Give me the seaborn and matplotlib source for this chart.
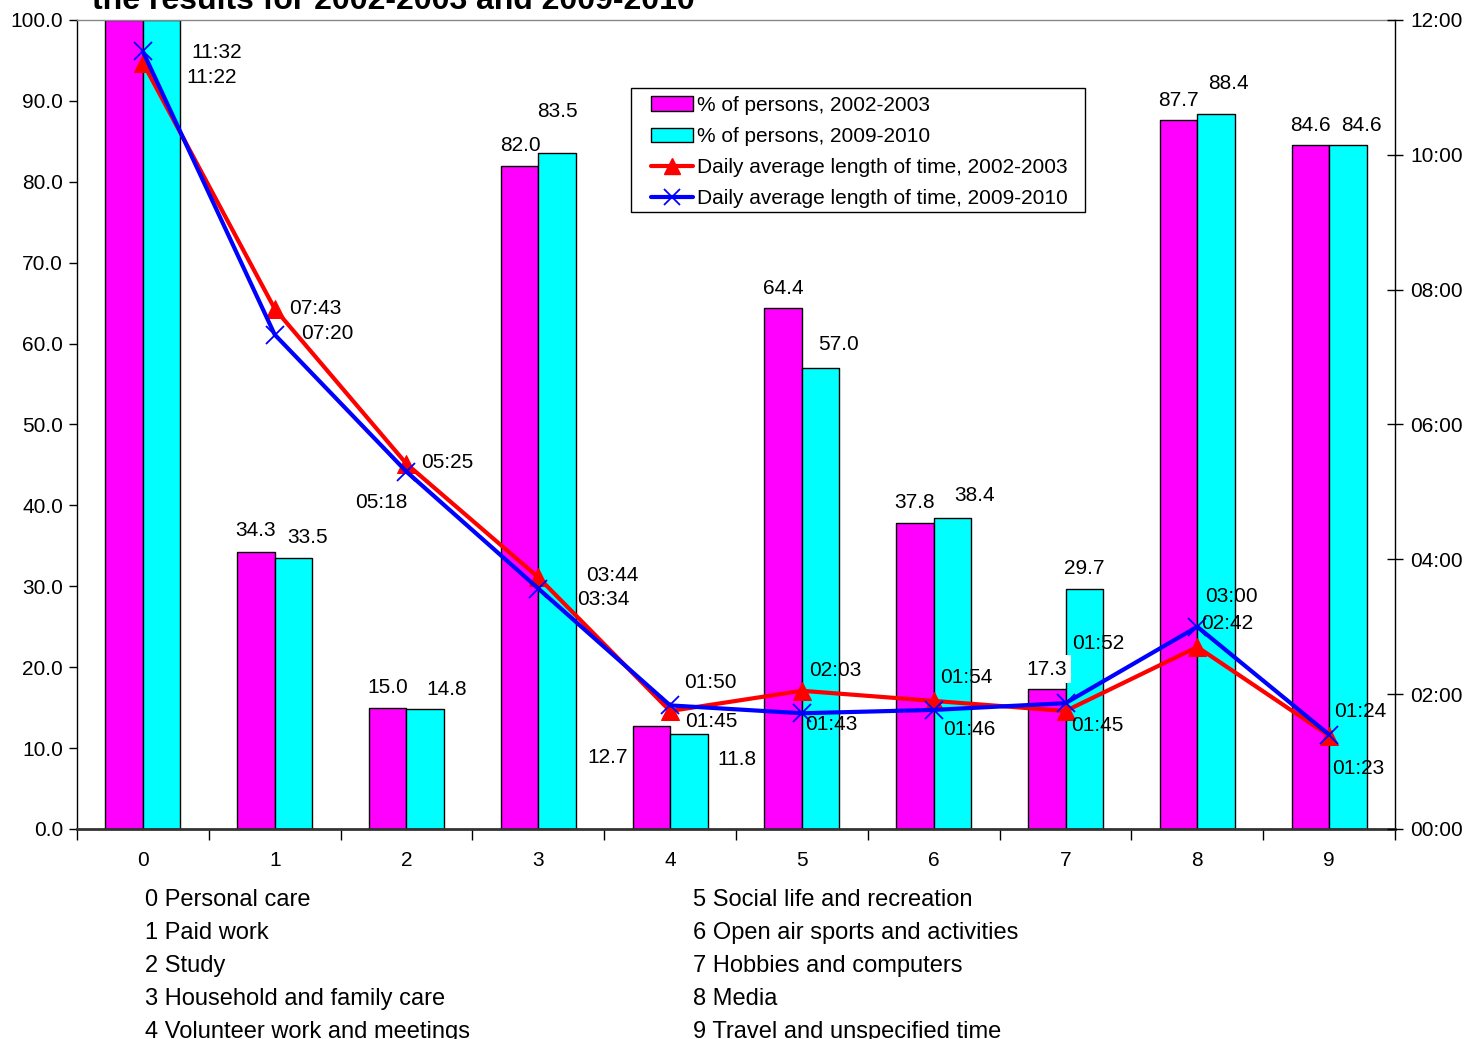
import matplotlib
matplotlib.use('Agg')

import matplotlib.pyplot as plt
import matplotlib.patches as mpatches
import matplotlib.lines as mlines
import seaborn as sns
import pandas as pd
from matplotlib.ticker import FixedLocator, FuncFormatter

# data
categories = ['0', '1', '2', '3', '4', '5', '6', '7', '8', '9']
activity_names = ['Personal care', 'Paid work', 'Study', 'Household and family care',
                  'Volunteer work and meetings', 'Social life and recreation',
                  'Open air sports and activities', 'Hobbies and computers', 'Media',
                  'Travel and unspecified time']
persons_2002 = [100.0, 34.3, 15.0, 82.0, 12.7, 64.4, 37.8, 17.3, 87.7, 84.6]
persons_2009 = [100.0, 33.5, 14.8, 83.5, 11.8, 57.0, 38.4, 29.7, 88.4, 84.6]
time_2002 = ['11:22', '07:43', '05:25', '03:44', '01:45', '02:03', '01:54', '01:45', '02:42', '01:23']
time_2009 = ['11:32', '07:20', '05:18', '03:34', '01:50', '01:43', '01:46', '01:52', '03:00', '01:24']
series_names = ['% of persons, 2002-2003', '% of persons, 2009-2010']
line_names = ['Daily average length of time, 2002-2003', 'Daily average length of time, 2009-2010']


def to_minutes(s):
    h, m = s.split(':')
    return int(h) * 60 + int(m)


mins_2002 = [to_minutes(t) for t in time_2002]
mins_2009 = [to_minutes(t) for t in time_2009]

sns.set_style('white')
plt.rcParams['font.family'] = ['Liberation Sans', 'DejaVu Sans']
plt.rcParams['text.color'] = 'black'
plt.rcParams['xtick.color'] = 'black'
plt.rcParams['ytick.color'] = 'black'
plt.rcParams['axes.labelcolor'] = 'black'

W, H = 1466, 1039
fig = plt.figure(figsize=(W / 100, H / 100), dpi=100)
ax = fig.add_axes([77 / W, 210 / H, 1318 / W, 809 / H])

bars = pd.DataFrame({
    'cat': categories * 2,
    'value': persons_2002 + persons_2009,
    'series': [series_names[0]] * 10 + [series_names[1]] * 10,
})
sns.barplot(data=bars, x='cat', y='value', hue='series', order=categories,
            palette=['#FF00FF', '#00FFFF'], width=0.57, gap=0,
            edgecolor='black', linewidth=1, saturation=1, legend=False, ax=ax)

ax.set_xlim(-0.5, 9.5)
ax.set_ylim(0, 100)
ax.set_xlabel('')
ax.set_ylabel('')
ax.set_yticks([i * 10 for i in range(11)])
ax.yaxis.set_major_formatter(FuncFormatter(lambda v, p: f'{v:.1f}'))
ax.tick_params(axis='y', direction='out', length=6, width=1, labelsize=15, left=True, pad=4)
ax.tick_params(axis='x', which='major', length=0, labelsize=15, pad=16)
ax.xaxis.set_minor_locator(FixedLocator([i - 0.5 for i in range(11)]))
ax.tick_params(axis='x', which='minor', direction='out', length=8, width=1, bottom=True)
for side in ['left', 'right']:
    ax.spines[side].set_color('black')
    ax.spines[side].set_linewidth(1)
ax.spines['bottom'].set_color('#333333')
ax.spines['bottom'].set_linewidth(2)
ax.spines['top'].set_color('#888888')
ax.spines['top'].set_linewidth(1)

# bar value labels (category 0 is off the scale, no label)
bar_off_2002 = [None, (0, 21), (0, 20), (1, 20), (-44, -31), (0, 20), (0, 21), (0, 20), (0, 19), (0, 19)]
bar_off_2009 = [None, (14, 20), (21, 20), (0, 42), (48, -26), (18, 23), (22, 23), (0, 20), (12, 30), (14, 19)]
half = 0.57 / 4
for i in range(10):
    for vals, offs, sgn in [(persons_2002, bar_off_2002, -1), (persons_2009, bar_off_2009, 1)]:
        if offs[i] is None:
            continue
        kw = {}
        if sgn == -1 and i == 7:
            kw['bbox'] = dict(facecolor='white', edgecolor='none', pad=3)
        ax.annotate(f'{vals[i]:.1f}', (i + sgn * half, vals[i]), xytext=offs[i],
                    textcoords='offset pixels', ha='center', va='center', fontsize=15, **kw)

# time lines on the secondary axis
ax2 = ax.twinx()
ax2.set_ylim(0, 720)
x = list(range(10))
sns.lineplot(x=x, y=mins_2002, color='#FF0000', linewidth=3, marker='^', markersize=13,
             markeredgecolor='#FF0000', ax=ax2)
sns.lineplot(x=x, y=mins_2009, color='#0000FF', linewidth=3, marker='x', markersize=13,
             markeredgewidth=1.3, markeredgecolor='#0000FF', ax=ax2)
ax2.set_xlim(-0.5, 9.5)
ax2.set_yticks([i * 120 for i in range(7)])
ax2.yaxis.set_major_formatter(FuncFormatter(lambda v, p: f'{int(v) // 60:02d}:{int(v) % 60:02d}'))
ax2.tick_params(axis='y', direction='inout', length=12, width=1, labelsize=15, right=True, pad=5)
for s in ax2.spines.values():
    s.set_visible(False)

time_off_2002 = [(69, -15), (41, 0), (41, 1), (74, 2), (41, -10), (33, 20), (33, 23), (32, -14), (30, 23), (29, -33)]
time_off_2009 = [(74, -1), (53, 1), (-25, -31), (65, -11), (40, 23), (29, -11), (36, -20), (33, 60), (34, 30), (31, 23)]
for i in range(10):
    ax2.annotate(time_2002[i], (i, mins_2002[i]), xytext=time_off_2002[i], textcoords='offset pixels',
                 ha='center', va='center', fontsize=15)
    ax2.annotate(time_2009[i], (i, mins_2009[i]), xytext=time_off_2009[i], textcoords='offset pixels',
                 ha='center', va='center', fontsize=15)

handles = [
    mpatches.Patch(facecolor='#FF00FF', edgecolor='black', label=series_names[0]),
    mpatches.Patch(facecolor='#00FFFF', edgecolor='black', label=series_names[1]),
    mlines.Line2D([], [], color='#FF0000', linewidth=3, marker='^', markersize=11, label=line_names[0]),
    mlines.Line2D([], [], color='#0000FF', linewidth=3, marker='x', markersize=11,
                  markeredgewidth=1.3, label=line_names[1]),
]
# legend box drawn separately so the padding matches the reference
fig.patches.append(mpatches.Rectangle((631 / W, 1 - 212 / H), 454 / W, 124 / H,
                                      transform=fig.transFigure, facecolor='white',
                                      edgecolor='black', linewidth=1, zorder=5))
leg = fig.legend(handles=handles, loc='upper left', bbox_to_anchor=(651 / W, 1 - 96 / H), fontsize=15,
                 frameon=False, handlelength=2.0, handleheight=0.7, handletextpad=0.2,
                 labelspacing=0.58, borderpad=0, borderaxespad=0)
leg.set_zorder(6)

# category key below the chart
for i, name in enumerate(activity_names):
    col = i // 5
    row = i % 5
    xpos = (145 if col == 0 else 693) / W
    ypos = 1 - (900 + row * 33) / H
    fig.text(xpos, ypos, f'{categories[i]} {name}', fontsize=17, ha='left', va='center')

# title, cut off at the top in the reference
fig.text(92 / W, 1 - 9 / H, 'the results for 2002-2003 and 2009-2010', fontsize=23,
         fontweight='bold', ha='left', va='baseline')

fig.savefig('out.png', dpi=100)
